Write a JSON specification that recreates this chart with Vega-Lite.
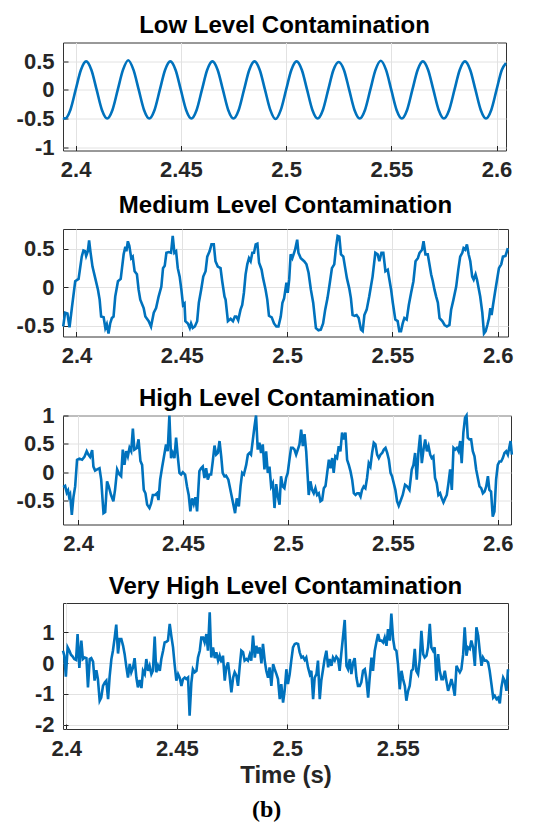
{
"$schema": "https://vega.github.io/schema/vega-lite/v6.json",
"background": "white",
"padding": {"left": 15, "top": 13.5, "right": 5, "bottom": 5},
"config": {
  "view": {"stroke": "#333333", "strokeWidth": 1},
  "font": "Liberation Sans",
  "axis": {"labelFont": "Liberation Sans", "labelFontSize": 22, "labelFontWeight": "bold", "labelColor": "#262626", "ticks": true, "tickSize": -5, "tickColor": "#262626", "tickWidth": 1, "domain": false, "gridColor": "#e2e2e2", "gridWidth": 1, "gridOpacity": 1, "labelPadding": 14, "titleFont": "Liberation Sans", "titleFontSize": 24, "titleFontWeight": "bold", "titleColor": "#262626", "labelOverlap": false, "labelFlush": false, "labelBound": false},
  "title": {"font": "Liberation Sans", "fontSize": 24, "fontWeight": "bold", "color": "#000000", "offset": 4.5, "anchor": "middle"},
  "line": {"color": "#0072BD", "strokeWidth": 2.6, "clip": true}
},
"title": {"text": "(b)", "orient": "bottom", "anchor": "middle", "font": "Liberation Serif", "fontSize": 24, "fontWeight": "bold", "color": "#000000", "offset": 10},
"bounds": "flush",
"spacing": 78.5,
"resolve": {"scale": {"x": "independent", "y": "independent"}},
"datasets": {
"low": [
{"t":2.394,"v":-0.49},{"t":2.395,"v":-0.5},{"t":2.3975,"v":-0.35},{"t":2.4,"v":0},{"t":2.4025,"v":0.35},{"t":2.405,"v":0.5},{"t":2.4075,"v":0.35},{"t":2.41,"v":0},{"t":2.4125,"v":-0.35},{"t":2.415,"v":-0.5},{"t":2.4175,"v":-0.35},{"t":2.42,"v":0},{"t":2.4225,"v":0.35},{"t":2.425,"v":0.52},{"t":2.4275,"v":0.35},{"t":2.43,"v":0},{"t":2.4325,"v":-0.35},{"t":2.435,"v":-0.5},{"t":2.4375,"v":-0.35},{"t":2.44,"v":0},{"t":2.4425,"v":0.35},{"t":2.445,"v":0.5},{"t":2.4475,"v":0.35},{"t":2.45,"v":0},{"t":2.4525,"v":-0.35},{"t":2.455,"v":-0.5},{"t":2.4575,"v":-0.35},{"t":2.46,"v":0},{"t":2.4625,"v":0.35},{"t":2.465,"v":0.5},{"t":2.4675,"v":0.35},{"t":2.47,"v":0},{"t":2.4725,"v":-0.35},{"t":2.475,"v":-0.5},{"t":2.4775,"v":-0.35},{"t":2.48,"v":0},{"t":2.4825,"v":0.35},{"t":2.485,"v":0.5},{"t":2.4875,"v":0.35},{"t":2.49,"v":0},{"t":2.4925,"v":-0.35},{"t":2.495,"v":-0.51},{"t":2.4975,"v":-0.35},{"t":2.5,"v":0},{"t":2.5025,"v":0.35},{"t":2.505,"v":0.5},{"t":2.5075,"v":0.35},{"t":2.51,"v":0},{"t":2.5125,"v":-0.35},{"t":2.515,"v":-0.5},{"t":2.5175,"v":-0.35},{"t":2.52,"v":0},{"t":2.5225,"v":0.35},{"t":2.525,"v":0.49},{"t":2.5275,"v":0.35},{"t":2.53,"v":0},{"t":2.5325,"v":-0.35},{"t":2.535,"v":-0.5},{"t":2.5375,"v":-0.35},{"t":2.54,"v":0},{"t":2.5425,"v":0.35},{"t":2.545,"v":0.51},{"t":2.5475,"v":0.35},{"t":2.55,"v":0},{"t":2.5525,"v":-0.35},{"t":2.555,"v":-0.5},{"t":2.5575,"v":-0.35},{"t":2.56,"v":0},{"t":2.5625,"v":0.35},{"t":2.565,"v":0.5},{"t":2.5675,"v":0.35},{"t":2.57,"v":0},{"t":2.5725,"v":-0.35},{"t":2.575,"v":-0.5},{"t":2.5775,"v":-0.35},{"t":2.58,"v":0},{"t":2.5825,"v":0.35},{"t":2.585,"v":0.5},{"t":2.5875,"v":0.35},{"t":2.59,"v":0},{"t":2.5925,"v":-0.35},{"t":2.595,"v":-0.5},{"t":2.5975,"v":-0.35},{"t":2.6,"v":0},{"t":2.6025,"v":0.35},{"t":2.6045,"v":0.47}
],
"med": [
{"t":2.3937,"v":-0.51},{"t":2.3946,"v":-0.33},{"t":2.3957,"v":-0.34},{"t":2.3967,"v":-0.52},{"t":2.3978,"v":-0.27},{"t":2.3994,"v":0.08},{"t":2.401,"v":0.11},{"t":2.4025,"v":0.4},{"t":2.4033,"v":0.48},{"t":2.4041,"v":0.47},{"t":2.4046,"v":0.41},{"t":2.4054,"v":0.47},{"t":2.406,"v":0.61},{"t":2.4067,"v":0.45},{"t":2.4076,"v":0.27},{"t":2.4089,"v":0.12},{"t":2.4102,"v":-0.03},{"t":2.411,"v":-0.16},{"t":2.4117,"v":-0.38},{"t":2.4129,"v":-0.39},{"t":2.4137,"v":-0.53},{"t":2.4144,"v":-0.48},{"t":2.4152,"v":-0.6},{"t":2.416,"v":-0.47},{"t":2.4168,"v":-0.4},{"t":2.4176,"v":-0.38},{"t":2.4184,"v":-0.12},{"t":2.4197,"v":0.08},{"t":2.421,"v":0.11},{"t":2.4224,"v":0.43},{"t":2.4232,"v":0.53},{"t":2.4237,"v":0.47},{"t":2.4244,"v":0.6},{"t":2.4251,"v":0.54},{"t":2.426,"v":0.38},{"t":2.4267,"v":0.4},{"t":2.4276,"v":0.21},{"t":2.4287,"v":0.17},{"t":2.4295,"v":-0.03},{"t":2.4303,"v":-0.16},{"t":2.4319,"v":-0.27},{"t":2.4327,"v":-0.38},{"t":2.4343,"v":-0.44},{"t":2.4354,"v":-0.51},{"t":2.4367,"v":-0.33},{"t":2.4378,"v":-0.27},{"t":2.439,"v":-0.12},{"t":2.4403,"v":0.01},{"t":2.4411,"v":0.25},{"t":2.4419,"v":0.28},{"t":2.4427,"v":0.45},{"t":2.4438,"v":0.46},{"t":2.4449,"v":0.45},{"t":2.4457,"v":0.67},{"t":2.4465,"v":0.45},{"t":2.4473,"v":0.47},{"t":2.4481,"v":0.25},{"t":2.449,"v":0.14},{"t":2.4498,"v":-0.03},{"t":2.4506,"v":-0.23},{"t":2.4513,"v":-0.21},{"t":2.4517,"v":-0.44},{"t":2.4529,"v":-0.47},{"t":2.4538,"v":-0.53},{"t":2.4544,"v":-0.47},{"t":2.4552,"v":-0.53},{"t":2.4562,"v":-0.51},{"t":2.4573,"v":-0.44},{"t":2.4581,"v":-0.2},{"t":2.4592,"v":-0.03},{"t":2.4602,"v":0.14},{"t":2.4613,"v":0.21},{"t":2.4621,"v":0.4},{"t":2.4632,"v":0.47},{"t":2.4641,"v":0.56},{"t":2.4652,"v":0.56},{"t":2.466,"v":0.34},{"t":2.4671,"v":0.27},{"t":2.4684,"v":0.25},{"t":2.4692,"v":0.08},{"t":2.4703,"v":-0.12},{"t":2.4708,"v":-0.16},{"t":2.4719,"v":-0.44},{"t":2.4732,"v":-0.41},{"t":2.4743,"v":-0.44},{"t":2.4752,"v":-0.38},{"t":2.4759,"v":-0.38},{"t":2.4768,"v":-0.43},{"t":2.4779,"v":-0.29},{"t":2.4787,"v":-0.23},{"t":2.4795,"v":-0.07},{"t":2.4803,"v":0.17},{"t":2.4811,"v":0.3},{"t":2.4819,"v":0.38},{"t":2.4827,"v":0.34},{"t":2.4835,"v":0.45},{"t":2.4843,"v":0.45},{"t":2.4851,"v":0.56},{"t":2.4859,"v":0.57},{"t":2.4867,"v":0.32},{"t":2.4879,"v":0.23},{"t":2.4886,"v":0.12},{"t":2.4898,"v":-0.03},{"t":2.4906,"v":-0.16},{"t":2.4914,"v":-0.37},{"t":2.4927,"v":-0.39},{"t":2.4938,"v":-0.47},{"t":2.4949,"v":-0.51},{"t":2.4959,"v":-0.51},{"t":2.497,"v":-0.38},{"t":2.4978,"v":-0.2},{"t":2.4986,"v":-0.14},{"t":2.4997,"v":0.06},{"t":2.5003,"v":-0.07},{"t":2.501,"v":0.1},{"t":2.5017,"v":0.43},{"t":2.5025,"v":0.38},{"t":2.5038,"v":0.49},{"t":2.5048,"v":0.62},{"t":2.5054,"v":0.45},{"t":2.5065,"v":0.38},{"t":2.5081,"v":0.34},{"t":2.5092,"v":0.3},{"t":2.5102,"v":0.19},{"t":2.5113,"v":-0.03},{"t":2.5124,"v":-0.2},{"t":2.5137,"v":-0.53},{"t":2.5149,"v":-0.56},{"t":2.516,"v":-0.55},{"t":2.5171,"v":-0.47},{"t":2.5181,"v":-0.29},{"t":2.5192,"v":-0.14},{"t":2.5203,"v":0.06},{"t":2.5213,"v":0.25},{"t":2.5224,"v":0.3},{"t":2.5232,"v":0.51},{"t":2.524,"v":0.67},{"t":2.5248,"v":0.66},{"t":2.5256,"v":0.43},{"t":2.5267,"v":0.4},{"t":2.5276,"v":0.25},{"t":2.5284,"v":0.12},{"t":2.5295,"v":-0.01},{"t":2.5303,"v":-0.14},{"t":2.5311,"v":-0.36},{"t":2.5321,"v":-0.37},{"t":2.533,"v":-0.36},{"t":2.534,"v":-0.4},{"t":2.5351,"v":-0.55},{"t":2.5359,"v":-0.57},{"t":2.5367,"v":-0.36},{"t":2.5378,"v":-0.29},{"t":2.539,"v":-0.12},{"t":2.5398,"v":0.01},{"t":2.5406,"v":0.14},{"t":2.5419,"v":0.45},{"t":2.543,"v":0.43},{"t":2.5438,"v":0.34},{"t":2.5448,"v":0.45},{"t":2.5457,"v":0.45},{"t":2.5467,"v":0.21},{"t":2.5478,"v":0.23},{"t":2.5486,"v":0.1},{"t":2.5494,"v":-0.03},{"t":2.5502,"v":-0.2},{"t":2.5514,"v":-0.42},{"t":2.5525,"v":-0.44},{"t":2.5533,"v":-0.57},{"t":2.5541,"v":-0.57},{"t":2.5549,"v":-0.47},{"t":2.5557,"v":-0.4},{"t":2.5568,"v":-0.42},{"t":2.5578,"v":-0.23},{"t":2.5589,"v":-0.07},{"t":2.56,"v":0.08},{"t":2.561,"v":0.34},{"t":2.5621,"v":0.38},{"t":2.5629,"v":0.45},{"t":2.5641,"v":0.49},{"t":2.5648,"v":0.6},{"t":2.5657,"v":0.43},{"t":2.5668,"v":0.43},{"t":2.5676,"v":0.3},{"t":2.5684,"v":0.17},{"t":2.5692,"v":0.08},{"t":2.57,"v":-0.03},{"t":2.5708,"v":-0.12},{"t":2.5716,"v":-0.2},{"t":2.5724,"v":-0.4},{"t":2.5737,"v":-0.44},{"t":2.5748,"v":-0.49},{"t":2.5759,"v":-0.51},{"t":2.5771,"v":-0.49},{"t":2.5779,"v":-0.29},{"t":2.579,"v":-0.16},{"t":2.5803,"v":0.01},{"t":2.5813,"v":0.23},{"t":2.5822,"v":0.4},{"t":2.5832,"v":0.45},{"t":2.5838,"v":0.51},{"t":2.5846,"v":0.49},{"t":2.5854,"v":0.56},{"t":2.5862,"v":0.43},{"t":2.587,"v":0.34},{"t":2.5879,"v":0.14},{"t":2.5886,"v":0.1},{"t":2.5895,"v":0.17},{"t":2.5902,"v":0.1},{"t":2.5911,"v":-0.03},{"t":2.5917,"v":-0.12},{"t":2.5927,"v":-0.33},{"t":2.5935,"v":-0.6},{"t":2.5943,"v":-0.57},{"t":2.5951,"v":-0.49},{"t":2.5959,"v":-0.4},{"t":2.5965,"v":-0.27},{"t":2.5971,"v":-0.36},{"t":2.5978,"v":-0.23},{"t":2.5987,"v":-0.07},{"t":2.5997,"v":0.1},{"t":2.6006,"v":0.25},{"t":2.6017,"v":0.3},{"t":2.6025,"v":0.4},{"t":2.6037,"v":0.41},{"t":2.6044,"v":0.47},{"t":2.6048,"v":0.51}
],
"high": [
{"t":2.3929,"v":-0.26},{"t":2.3938,"v":-0.24},{"t":2.3946,"v":-0.36},{"t":2.3952,"v":-0.32},{"t":2.3957,"v":-0.43},{"t":2.3962,"v":-0.39},{"t":2.397,"v":-0.75},{"t":2.3978,"v":-0.43},{"t":2.3986,"v":-0.25},{"t":2.3995,"v":0.22},{"t":2.4006,"v":0.24},{"t":2.4019,"v":0.22},{"t":2.403,"v":0.27},{"t":2.4041,"v":0.37},{"t":2.4049,"v":0.31},{"t":2.4057,"v":0.27},{"t":2.4067,"v":0.39},{"t":2.4073,"v":0.1},{"t":2.4081,"v":0.03},{"t":2.4091,"v":0.05},{"t":2.4102,"v":0.07},{"t":2.411,"v":-0.13},{"t":2.4121,"v":-0.72},{"t":2.4129,"v":-0.7},{"t":2.4138,"v":-0.16},{"t":2.4146,"v":-0.25},{"t":2.4157,"v":-0.4},{"t":2.4168,"v":-0.51},{"t":2.4176,"v":-0.31},{"t":2.4186,"v":0.05},{"t":2.4197,"v":-0.04},{"t":2.4205,"v":-0.07},{"t":2.4213,"v":0.4},{"t":2.4221,"v":0.13},{"t":2.4229,"v":0.37},{"t":2.4237,"v":0.28},{"t":2.4245,"v":0.43},{"t":2.4253,"v":0.37},{"t":2.4261,"v":0.77},{"t":2.4268,"v":0.4},{"t":2.428,"v":0.43},{"t":2.4288,"v":0.58},{"t":2.4297,"v":0.2},{"t":2.4305,"v":0.13},{"t":2.4313,"v":-0.31},{"t":2.4321,"v":-0.37},{"t":2.4329,"v":-0.57},{"t":2.434,"v":-0.63},{"t":2.4348,"v":-0.55},{"t":2.4356,"v":-0.4},{"t":2.4367,"v":-0.4},{"t":2.4376,"v":-0.37},{"t":2.4383,"v":-0.49},{"t":2.4391,"v":-0.13},{"t":2.44,"v":0.08},{"t":2.4408,"v":0.25},{"t":2.4419,"v":0.49},{"t":2.4427,"v":0.37},{"t":2.4435,"v":1.0},{"t":2.4443,"v":0.25},{"t":2.4451,"v":0.34},{"t":2.4459,"v":0.25},{"t":2.4467,"v":0.61},{"t":2.4475,"v":0.28},{"t":2.4483,"v":-0.01},{"t":2.4491,"v":-0.04},{"t":2.4499,"v":0},{"t":2.451,"v":-0.04},{"t":2.4519,"v":-0.25},{"t":2.4527,"v":-0.4},{"t":2.4535,"v":-0.69},{"t":2.4543,"v":-0.46},{"t":2.4551,"v":-0.56},{"t":2.4559,"v":-0.44},{"t":2.4567,"v":-0.69},{"t":2.4578,"v":0.02},{"t":2.4586,"v":0.07},{"t":2.4594,"v":0.1},{"t":2.4602,"v":-0.1},{"t":2.461,"v":0.07},{"t":2.4618,"v":-0.13},{"t":2.4626,"v":-0.04},{"t":2.4634,"v":-0.04},{"t":2.4642,"v":0.2},{"t":2.465,"v":0.47},{"t":2.4658,"v":0.31},{"t":2.4666,"v":0.34},{"t":2.4674,"v":0.55},{"t":2.4682,"v":0.28},{"t":2.4689,"v":-0.01},{"t":2.4697,"v":-0.07},{"t":2.4705,"v":-0.06},{"t":2.4716,"v":-0.13},{"t":2.4729,"v":-0.37},{"t":2.474,"v":-0.57},{"t":2.4748,"v":-0.72},{"t":2.4756,"v":-0.46},{"t":2.4766,"v":-0.6},{"t":2.4774,"v":-0.25},{"t":2.4782,"v":-0.01},{"t":2.479,"v":-0.04},{"t":2.4801,"v":0.13},{"t":2.4809,"v":0.31},{"t":2.4817,"v":0.34},{"t":2.4824,"v":0.31},{"t":2.4832,"v":0.55},{"t":2.484,"v":0.79},{"t":2.4848,"v":1.0},{"t":2.4856,"v":0.4},{"t":2.4864,"v":0.52},{"t":2.4872,"v":0.34},{"t":2.488,"v":0.49},{"t":2.4888,"v":0.05},{"t":2.4896,"v":0.37},{"t":2.4904,"v":-0.01},{"t":2.4912,"v":0.1},{"t":2.492,"v":-0.25},{"t":2.4928,"v":-0.19},{"t":2.4936,"v":-0.63},{"t":2.4944,"v":-0.21},{"t":2.4952,"v":-0.43},{"t":2.496,"v":-0.57},{"t":2.4967,"v":-0.07},{"t":2.4975,"v":-0.25},{"t":2.4983,"v":-0.28},{"t":2.4991,"v":-0.1},{"t":2.4999,"v":-0.01},{"t":2.5007,"v":0.22},{"t":2.5015,"v":0.43},{"t":2.5023,"v":0.43},{"t":2.5031,"v":0.4},{"t":2.5039,"v":0.31},{"t":2.5047,"v":0.4},{"t":2.5055,"v":0.49},{"t":2.5063,"v":0.75},{"t":2.5071,"v":0.46},{"t":2.5079,"v":0.67},{"t":2.5087,"v":0.37},{"t":2.5095,"v":-0.13},{"t":2.5099,"v":-0.4},{"t":2.5107,"v":-0.16},{"t":2.5115,"v":-0.31},{"t":2.5123,"v":-0.37},{"t":2.5131,"v":-0.28},{"t":2.5139,"v":-0.4},{"t":2.5147,"v":-0.37},{"t":2.5155,"v":-0.51},{"t":2.5163,"v":-0.49},{"t":2.5171,"v":-0.28},{"t":2.5179,"v":-0.24},{"t":2.5187,"v":-0.01},{"t":2.5195,"v":0.22},{"t":2.5203,"v":0.07},{"t":2.5211,"v":0.25},{"t":2.5218,"v":-0.01},{"t":2.5226,"v":0.28},{"t":2.5234,"v":0.25},{"t":2.5242,"v":0.46},{"t":2.525,"v":0.37},{"t":2.5258,"v":0.7},{"t":2.5266,"v":0.58},{"t":2.5274,"v":0.7},{"t":2.5282,"v":0.22},{"t":2.529,"v":0.13},{"t":2.5298,"v":0.02},{"t":2.5306,"v":-0.13},{"t":2.5314,"v":-0.37},{"t":2.5322,"v":-0.4},{"t":2.533,"v":-0.37},{"t":2.5338,"v":-0.37},{"t":2.5346,"v":-0.43},{"t":2.5353,"v":-0.31},{"t":2.5361,"v":-0.25},{"t":2.5369,"v":-0.28},{"t":2.5377,"v":-0.1},{"t":2.5385,"v":0.16},{"t":2.5393,"v":0.1},{"t":2.5401,"v":0.34},{"t":2.5409,"v":0.52},{"t":2.5417,"v":0.49},{"t":2.5425,"v":0.31},{"t":2.5433,"v":0.25},{"t":2.5441,"v":0.31},{"t":2.5449,"v":0.34},{"t":2.5457,"v":0.4},{"t":2.5465,"v":0.43},{"t":2.5473,"v":0.34},{"t":2.5481,"v":0.22},{"t":2.5489,"v":-0.01},{"t":2.5496,"v":-0.07},{"t":2.5504,"v":-0.19},{"t":2.5512,"v":-0.31},{"t":2.552,"v":-0.51},{"t":2.5528,"v":-0.59},{"t":2.5536,"v":-0.51},{"t":2.5547,"v":-0.4},{"t":2.5558,"v":-0.22},{"t":2.5568,"v":-0.25},{"t":2.5579,"v":-0.31},{"t":2.559,"v":0.05},{"t":2.5598,"v":0.13},{"t":2.5606,"v":0.34},{"t":2.5614,"v":-0.13},{"t":2.5622,"v":0.37},{"t":2.563,"v":0.66},{"t":2.5638,"v":0.16},{"t":2.5646,"v":0.4},{"t":2.5654,"v":0.58},{"t":2.5662,"v":0.37},{"t":2.567,"v":0.46},{"t":2.5678,"v":0.31},{"t":2.5685,"v":0.25},{"t":2.5693,"v":0.28},{"t":2.5701,"v":-0.1},{"t":2.5709,"v":-0.19},{"t":2.5717,"v":-0.4},{"t":2.5725,"v":-0.37},{"t":2.5733,"v":-0.46},{"t":2.5741,"v":-0.53},{"t":2.5749,"v":-0.46},{"t":2.5757,"v":-0.4},{"t":2.5765,"v":-0.19},{"t":2.5773,"v":0.05},{"t":2.5781,"v":-0.31},{"t":2.5789,"v":0.43},{"t":2.5797,"v":0.4},{"t":2.5805,"v":0.43},{"t":2.5813,"v":0.37},{"t":2.5821,"v":0.55},{"t":2.5828,"v":0.16},{"t":2.5836,"v":0.7},{"t":2.5844,"v":0.96},{"t":2.5851,"v":1.0},{"t":2.5857,"v":0.61},{"t":2.5865,"v":0.58},{"t":2.5873,"v":0.58},{"t":2.5881,"v":0.37},{"t":2.5889,"v":0.28},{"t":2.5897,"v":0.05},{"t":2.5905,"v":-0.1},{"t":2.5913,"v":-0.25},{"t":2.5921,"v":-0.28},{"t":2.5929,"v":-0.37},{"t":2.5937,"v":-0.34},{"t":2.5945,"v":-0.25},{"t":2.5953,"v":-0.07},{"t":2.596,"v":-0.31},{"t":2.5968,"v":-0.34},{"t":2.5976,"v":-0.78},{"t":2.5984,"v":-0.69},{"t":2.5992,"v":-0.13},{"t":2.6,"v":0.13},{"t":2.6008,"v":0.19},{"t":2.6016,"v":0.19},{"t":2.6024,"v":0.25},{"t":2.6032,"v":0.34},{"t":2.604,"v":0.37},{"t":2.6048,"v":0.31},{"t":2.6056,"v":0.46},{"t":2.6061,"v":0.55},{"t":2.6067,"v":0.31}
],
"vhigh": [
{"t":2.3985,"v":0.4},{"t":2.3991,"v":0.24},{"t":2.3998,"v":-0.44},{"t":2.4006,"v":0.51},{"t":2.4014,"v":0.4},{"t":2.4021,"v":0.27},{"t":2.4029,"v":0.21},{"t":2.4036,"v":0.13},{"t":2.4044,"v":0.1},{"t":2.4051,"v":0.94},{"t":2.4059,"v":-0.16},{"t":2.4068,"v":0.73},{"t":2.4075,"v":0.13},{"t":2.4083,"v":0.18},{"t":2.4091,"v":0.16},{"t":2.4098,"v":-0.79},{"t":2.4106,"v":0.13},{"t":2.4113,"v":0.16},{"t":2.4121,"v":0.05},{"t":2.4128,"v":-0.57},{"t":2.4136,"v":-0.23},{"t":2.4143,"v":-0.52},{"t":2.4151,"v":-1.22},{"t":2.4158,"v":-1.12},{"t":2.4166,"v":-0.74},{"t":2.4174,"v":-0.63},{"t":2.4181,"v":-0.57},{"t":2.4189,"v":-1.17},{"t":2.4196,"v":-0.44},{"t":2.4204,"v":0.13},{"t":2.4211,"v":0.4},{"t":2.4219,"v":0.83},{"t":2.4226,"v":1.25},{"t":2.4234,"v":0.31},{"t":2.4241,"v":0.78},{"t":2.4249,"v":0.78},{"t":2.4257,"v":0.56},{"t":2.4264,"v":0.29},{"t":2.4272,"v":-0.14},{"t":2.4279,"v":-0.47},{"t":2.4287,"v":-0.03},{"t":2.4294,"v":-0.3},{"t":2.4302,"v":-0.14},{"t":2.4309,"v":0.16},{"t":2.4317,"v":-0.47},{"t":2.4324,"v":-0.79},{"t":2.4332,"v":-0.55},{"t":2.434,"v":-0.81},{"t":2.4347,"v":-0.25},{"t":2.4355,"v":-0.36},{"t":2.4362,"v":0.13},{"t":2.437,"v":-0.25},{"t":2.4377,"v":-0.09},{"t":2.4385,"v":-0.36},{"t":2.4392,"v":-0.25},{"t":2.44,"v":0.86},{"t":2.4407,"v":-0.3},{"t":2.4415,"v":-0.09},{"t":2.4423,"v":-0.25},{"t":2.443,"v":0.13},{"t":2.4438,"v":0.4},{"t":2.4445,"v":0.67},{"t":2.4453,"v":0.69},{"t":2.446,"v":0.73},{"t":2.4468,"v":1.27},{"t":2.4475,"v":0.89},{"t":2.4483,"v":0.51},{"t":2.449,"v":-0.03},{"t":2.4498,"v":-0.57},{"t":2.4506,"v":-0.36},{"t":2.4513,"v":-0.47},{"t":2.4521,"v":-0.74},{"t":2.4528,"v":-0.52},{"t":2.4536,"v":-0.47},{"t":2.4543,"v":-0.52},{"t":2.4551,"v":-0.47},{"t":2.4558,"v":-1.71},{"t":2.4566,"v":-0.63},{"t":2.4573,"v":-0.2},{"t":2.4581,"v":-0.3},{"t":2.4589,"v":-0.25},{"t":2.4596,"v":0.18},{"t":2.4604,"v":0.4},{"t":2.4611,"v":0.83},{"t":2.4619,"v":0.83},{"t":2.4626,"v":0.67},{"t":2.4634,"v":0.94},{"t":2.4641,"v":0.4},{"t":2.4649,"v":1.65},{"t":2.4656,"v":0.18},{"t":2.4664,"v":0.51},{"t":2.4672,"v":0.16},{"t":2.4679,"v":0.35},{"t":2.4687,"v":0.08},{"t":2.4694,"v":0.24},{"t":2.4702,"v":0.02},{"t":2.4709,"v":0.24},{"t":2.4717,"v":-0.57},{"t":2.4724,"v":-0.14},{"t":2.4732,"v":0.02},{"t":2.4739,"v":-0.41},{"t":2.4747,"v":-0.95},{"t":2.4755,"v":-0.47},{"t":2.4762,"v":-0.3},{"t":2.477,"v":-0.41},{"t":2.4777,"v":-0.74},{"t":2.4785,"v":-0.09},{"t":2.4792,"v":0.4},{"t":2.48,"v":0.35},{"t":2.4807,"v":0.08},{"t":2.4815,"v":0.13},{"t":2.4822,"v":0.08},{"t":2.483,"v":0.27},{"t":2.4837,"v":0.08},{"t":2.4845,"v":0.89},{"t":2.4853,"v":0.18},{"t":2.486,"v":0.56},{"t":2.4868,"v":0.31},{"t":2.4875,"v":0.51},{"t":2.4883,"v":-0.01},{"t":2.489,"v":0.62},{"t":2.4898,"v":0.08},{"t":2.4905,"v":-0.25},{"t":2.4913,"v":-0.47},{"t":2.492,"v":-0.14},{"t":2.4928,"v":-0.74},{"t":2.4936,"v":-0.03},{"t":2.4943,"v":-0.2},{"t":2.4951,"v":-0.36},{"t":2.4958,"v":-0.52},{"t":2.4966,"v":-1.17},{"t":2.4973,"v":-0.68},{"t":2.4981,"v":-1.28},{"t":2.4988,"v":-0.9},{"t":2.4996,"v":-0.2},{"t":2.5003,"v":-0.68},{"t":2.5011,"v":-0.36},{"t":2.5019,"v":0.13},{"t":2.5026,"v":0.51},{"t":2.5034,"v":0.62},{"t":2.5041,"v":0.64},{"t":2.5049,"v":0.62},{"t":2.5056,"v":0.35},{"t":2.5064,"v":0.18},{"t":2.5071,"v":0.21},{"t":2.5079,"v":0.1},{"t":2.5086,"v":0.18},{"t":2.5094,"v":-0.14},{"t":2.5102,"v":-0.36},{"t":2.5109,"v":-0.25},{"t":2.5117,"v":-1.17},{"t":2.5124,"v":-0.47},{"t":2.5132,"v":-0.36},{"t":2.5139,"v":0.08},{"t":2.5147,"v":-1.17},{"t":2.5154,"v":-0.57},{"t":2.5162,"v":-0.2},{"t":2.5169,"v":0.13},{"t":2.5177,"v":0.4},{"t":2.5185,"v":-0.14},{"t":2.5192,"v":0.13},{"t":2.52,"v":-0.09},{"t":2.5207,"v":0.18},{"t":2.5215,"v":0.08},{"t":2.5222,"v":0.21},{"t":2.523,"v":0.13},{"t":2.5237,"v":-0.25},{"t":2.5245,"v":0.35},{"t":2.5252,"v":0.83},{"t":2.526,"v":1.4},{"t":2.5268,"v":-0.09},{"t":2.5275,"v":-0.2},{"t":2.5283,"v":0.13},{"t":2.529,"v":-0.36},{"t":2.5298,"v":0.02},{"t":2.5305,"v":0.16},{"t":2.5313,"v":-0.47},{"t":2.532,"v":-0.74},{"t":2.5328,"v":-0.74},{"t":2.5335,"v":-0.63},{"t":2.5343,"v":-0.25},{"t":2.5351,"v":-0.2},{"t":2.5358,"v":-0.52},{"t":2.5366,"v":-1.12},{"t":2.5373,"v":-0.47},{"t":2.5381,"v":0.18},{"t":2.5388,"v":-0.25},{"t":2.5396,"v":0.4},{"t":2.5403,"v":0.67},{"t":2.5411,"v":0.94},{"t":2.5418,"v":0.73},{"t":2.5426,"v":0.73},{"t":2.5434,"v":0.67},{"t":2.5441,"v":0.83},{"t":2.5449,"v":0.56},{"t":2.5456,"v":1.1},{"t":2.5464,"v":0.73},{"t":2.5471,"v":1.61},{"t":2.5479,"v":0.78},{"t":2.5486,"v":0.46},{"t":2.5494,"v":0.4},{"t":2.5501,"v":-0.03},{"t":2.5509,"v":-0.85},{"t":2.5517,"v":-0.25},{"t":2.5524,"v":-0.52},{"t":2.5532,"v":-0.74},{"t":2.5539,"v":-1.22},{"t":2.5547,"v":-0.9},{"t":2.5554,"v":-0.74},{"t":2.5562,"v":-0.25},{"t":2.5569,"v":-0.2},{"t":2.5577,"v":0.46},{"t":2.5584,"v":-0.25},{"t":2.5592,"v":-0.36},{"t":2.56,"v":0.13},{"t":2.5607,"v":1.05},{"t":2.5615,"v":0.29},{"t":2.5622,"v":0.18},{"t":2.563,"v":0.24},{"t":2.5637,"v":0.51},{"t":2.5645,"v":1.27},{"t":2.5652,"v":0.51},{"t":2.566,"v":0.4},{"t":2.5667,"v":0.51},{"t":2.5675,"v":-0.57},{"t":2.5683,"v":0.29},{"t":2.569,"v":-0.25},{"t":2.5698,"v":-0.52},{"t":2.5705,"v":-0.52},{"t":2.5713,"v":-0.25},{"t":2.572,"v":-0.57},{"t":2.5728,"v":-0.9},{"t":2.5735,"v":-0.74},{"t":2.5743,"v":-0.52},{"t":2.575,"v":-0.74},{"t":2.5758,"v":-1.06},{"t":2.5766,"v":-0.09},{"t":2.5773,"v":-0.2},{"t":2.5781,"v":-0.3},{"t":2.5788,"v":-0.2},{"t":2.5796,"v":0.29},{"t":2.5803,"v":1.16},{"t":2.5811,"v":0.24},{"t":2.5818,"v":0.51},{"t":2.5826,"v":0.46},{"t":2.5833,"v":0.73},{"t":2.5841,"v":0.51},{"t":2.5849,"v":-0.09},{"t":2.5856,"v":1.16},{"t":2.5864,"v":0.89},{"t":2.5871,"v":0.4},{"t":2.5879,"v":-0.09},{"t":2.5886,"v":0.18},{"t":2.5894,"v":0.08},{"t":2.5901,"v":0.08},{"t":2.5909,"v":0.02},{"t":2.5916,"v":-0.25},{"t":2.5924,"v":-0.68},{"t":2.5932,"v":-1.12},{"t":2.5939,"v":-1.06},{"t":2.5947,"v":-1.17},{"t":2.5954,"v":-1.12},{"t":2.5962,"v":-1.31},{"t":2.5969,"v":-0.79},{"t":2.5977,"v":-0.47},{"t":2.5984,"v":-0.57},{"t":2.5992,"v":-0.9},{"t":2.5999,"v":-0.2}
]
},
"vconcat": [
{
 "title": {"text": "Low Level Contamination", "offset": 4.5},
 "width": 443, "height": 108,
 "data": {"name": "low"},
 "mark": {"type": "line", "interpolate": "monotone"},
 "encoding": {
  "x": {"field": "t", "type": "quantitative", "scale": {"domain": [2.394, 2.6045], "nice": false, "zero": false}, "axis": {"values": [2.4, 2.45, 2.5, 2.55, 2.6], "labelExpr": "'' + datum.value", "title": null}},
  "y": {"field": "v", "type": "quantitative", "scale": {"domain": [-1.06, 0.83], "nice": false, "zero": false}, "axis": {"values": [-1, -0.5, 0, 0.5], "labelExpr": "'' + datum.value", "title": null}}
 }
},
{
 "title": {"text": "Medium Level Contamination", "offset": 11},
 "width": 445, "height": 107.5,
 "data": {"name": "med"},
 "mark": {"type": "line"},
 "encoding": {
  "x": {"field": "t", "type": "quantitative", "scale": {"domain": [2.3936, 2.6049], "nice": false, "zero": false}, "axis": {"values": [2.4, 2.45, 2.5, 2.55, 2.6], "labelExpr": "'' + datum.value", "title": null}},
  "y": {"field": "v", "type": "quantitative", "scale": {"domain": [-0.64, 0.76], "nice": false, "zero": false}, "axis": {"values": [-0.5, 0, 0.5], "labelExpr": "'' + datum.value", "title": null}}
 }
},
{
 "title": {"text": "High Level Contamination", "offset": -6},
 "width": 448, "height": 109,
 "data": {"name": "high"},
 "mark": {"type": "line"},
 "encoding": {
  "x": {"field": "t", "type": "quantitative", "scale": {"domain": [2.3928, 2.6063], "nice": false, "zero": false}, "axis": {"values": [2.4, 2.45, 2.5, 2.55, 2.6], "labelExpr": "'' + datum.value", "title": null}},
  "y": {"field": "v", "type": "quantitative", "scale": {"domain": [-0.92, 1.0], "nice": false, "zero": false}, "axis": {"values": [-0.5, 0, 0.5, 1], "labelExpr": "'' + datum.value", "title": null}}
 }
},
{
 "title": {"text": "Very High Level Contamination", "offset": 4.5},
 "width": 445, "height": 126,
 "data": {"name": "vhigh"},
 "mark": {"type": "line"},
 "encoding": {
  "x": {"field": "t", "type": "quantitative", "scale": {"domain": [2.3985, 2.5999], "nice": false, "zero": false}, "axis": {"values": [2.4, 2.45, 2.5, 2.55], "labelExpr": "'' + datum.value", "title": "Time (s)", "titlePadding": 4}},
  "y": {"field": "v", "type": "quantitative", "scale": {"domain": [-2.14, 1.95], "nice": false, "zero": false}, "axis": {"values": [-2, -1, 0, 1], "labelExpr": "'' + datum.value", "title": null}}
 }
}
]
}
